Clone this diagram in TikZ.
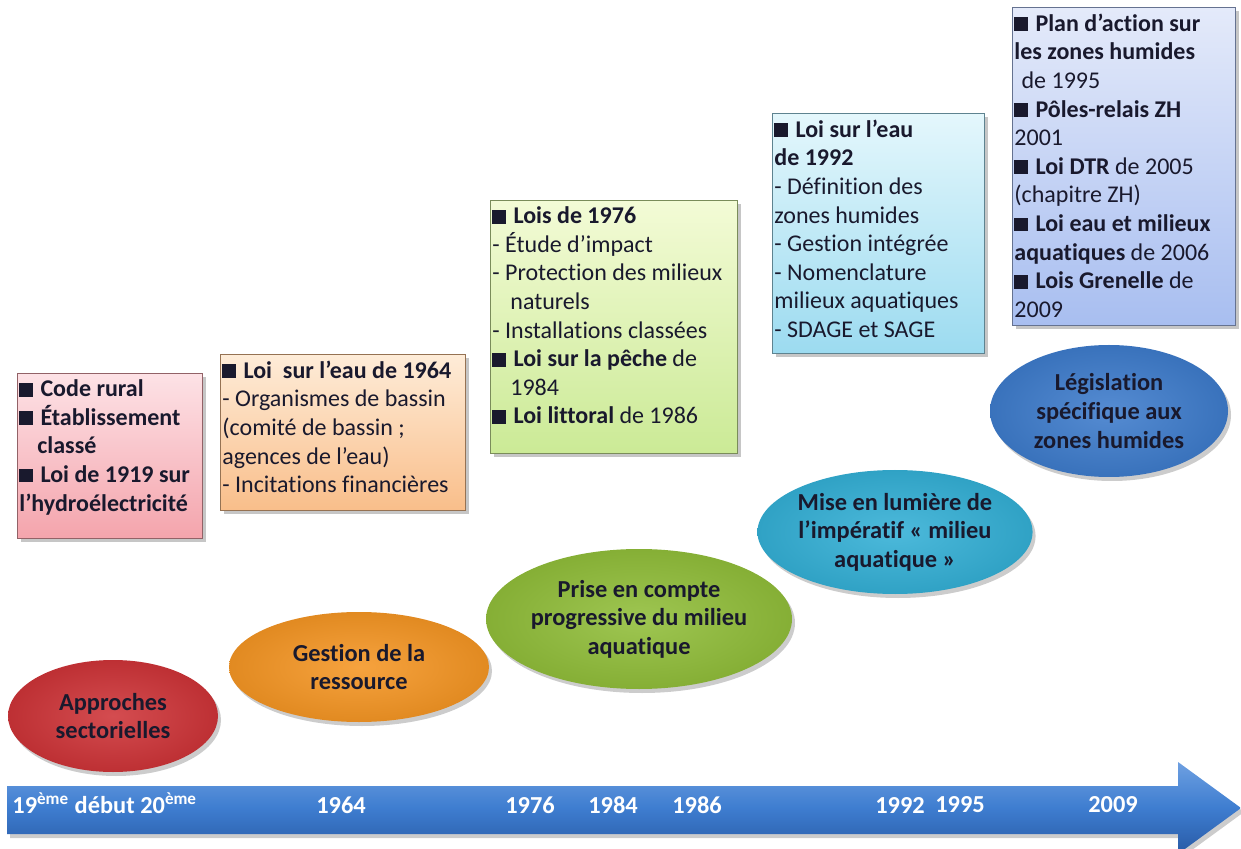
\documentclass[tikz,border=0pt]{standalone}
\usepackage{fontspec}
\setmainfont{Carlito}[Ligatures=NoCommon]
\usepackage{tikz}
\usetikzlibrary{positioning,shapes.geometric,shadows}
\definecolor{txtdark}{RGB}{25,25,45}
\definecolor{rdtop}{RGB}{253,226,230}
\definecolor{rdbot}{RGB}{244,164,172}
\definecolor{ortop}{RGB}{254,236,216}
\definecolor{orbot}{RGB}{249,190,138}
\definecolor{grtop}{RGB}{243,251,214}
\definecolor{grbot}{RGB}{203,234,150}
\definecolor{cytop}{RGB}{228,247,252}
\definecolor{cybot}{RGB}{156,219,240}
\definecolor{bltop}{RGB}{228,234,250}
\definecolor{blbot}{RGB}{168,190,240}
\definecolor{elred}{RGB}{206,52,56}
\definecolor{elorange}{RGB}{245,150,36}
\definecolor{elgreen}{RGB}{145,190,58}
\definecolor{elcyan}{RGB}{52,176,214}
\definecolor{elblue}{RGB}{62,124,204}
\definecolor{bartop}{RGB}{110,160,225}
\definecolor{barmid}{RGB}{62,125,208}
\definecolor{barbot}{RGB}{40,90,165}
\newcommand{\carre}{\rule[0pt]{0.58em}{0.58em}\hspace{0.3em}}
\tikzset{
  lawbox/.style={rectangle, draw=#1bot!60!black, line width=0.5pt,
    top color=#1top, bottom color=#1bot, anchor=north west,
    drop shadow={shadow xshift=1.6pt, shadow yshift=-1.6pt, opacity=0.45}},
  lawtext/.style={font=\fontsize{12}{14.3}\selectfont, text=txtdark, align=left,
    inner xsep=1pt, inner ysep=3.2pt, execute at begin node=\strut},
  phase/.style={ellipse, inner sep=0pt, text=txtdark, align=center,
    font=\fontsize{12.2}{14.3}\selectfont\bfseries,
    inner color=#1!88!white, outer color=#1!92!black,
    drop shadow={shadow xshift=1.5pt, shadow yshift=-2pt, opacity=0.4}},
  yearlbl/.style={text=white, font=\fontsize{12.2}{14}\selectfont\bfseries, inner sep=0pt}
}
\begin{document}
\begin{tikzpicture}[x=0.5pt, y=-0.5pt]
\useasboundingbox (0,0) rectangle (1241,849);

% Timeline arrow
\shade[top color=bartop, bottom color=barbot, middle color=barmid,
       drop shadow={shadow xshift=1.5pt, shadow yshift=-2pt, opacity=0.4}]
  (7,786) -- (1178,786) -- (1178,762) -- (1241,808) -- (1178,854)
  -- (1178,834) -- (7,834) -- cycle;
\node[yearlbl, anchor=west] (y19) at (12,803) {19\textsuperscript{ème} début 20\textsuperscript{ème}};
\node[yearlbl] (y1964) at (341,805) {1964};
\node[yearlbl] (y1976) at (530,805) {1976};
\node[yearlbl] (y1984) at (613,805) {1984};
\node[yearlbl] (y1986) at (697,805) {1986};
\node[yearlbl] (y1992) at (900,805) {1992};
\node[yearlbl] (y1995) at (960,805) {1995};
\node[yearlbl] (y2009) at (1113,805) {2009};

% Phases
\node[phase=elred, minimum width=105pt, minimum height=56pt] (sect) at (113,716)
  {Approches\\sectorielles};
\node[phase=elorange, minimum width=130pt, minimum height=55pt] (ress) at (359,667)
  {Gestion de la\\ressource};
\node[phase=elgreen, minimum width=137pt, minimum height=70pt] (progr) at (639,619)
  {Prise en compte\\progressive du milieu\\aquatique};
\node[phase=elcyan, minimum width=136pt, minimum height=62pt] (imper) at (895,532)
  {Mise en lumière de\\l’impératif « milieu\\aquatique »};
\node[phase=elblue, minimum width=119pt, minimum height=66pt] (legis) at (1109,411)
  {Législation\\spécifique aux\\zones humides};

% Laws boxes
\node[lawbox=rd, minimum width=92.5pt, minimum height=82.5pt] (b19) at (17,373) {};
\node[lawtext, below right=0pt and 0pt of b19.north west] (t19)
  {\textbf{\carre Code rural}\\
   \textbf{\carre Établissement}\\
   \textbf{\hspace*{0.75em}classé}\\
   \textbf{\carre Loi de 1919 sur}\\
   \textbf{l’hydroélectricité}};

\node[lawbox=or, minimum width=122.5pt, minimum height=78pt] (b64) at (220,354) {};
\node[lawtext, below right=0pt and 0pt of b64.north west] (t64)
  {\textbf{\carre Loi\ \ sur l’eau de 1964}\\
   - Organismes de bassin\\
   (comité de bassin ;\\
   agences de l’eau)\\
   - Incitations financières};

\node[lawbox=gr, minimum width=123.5pt, minimum height=126.5pt] (b76) at (490,200) {};
\node[lawtext, below right=0pt and 0pt of b76.north west] (t76)
  {\textbf{\carre Lois de 1976}\\
   - Étude d’impact\\
   - Protection des milieux\\
   \hspace*{0.75em}naturels\\
   - Installations classées\\
   \carre\textbf{Loi sur la pêche} de\\
   \hspace*{0.75em}1984\\
   \carre\textbf{Loi littoral} de 1986};

\node[lawbox=cy, minimum width=106pt, minimum height=120pt] (b92) at (772,113) {};
\node[lawtext, below right=0pt and 0pt of b92.north west] (t92)
  {\textbf{\carre Loi sur l’eau}\\
   \textbf{de 1992}\\
   - Définition des\\
   zones humides\\
   - Gestion intégrée\\
   - Nomenclature\\
   milieux aquatiques\\
   - SDAGE et SAGE};

\node[lawbox=bl, minimum width=111.5pt, minimum height=159pt] (b95) at (1012,7) {};
\node[lawtext, below right=0pt and 0pt of b95.north west] (t95)
  {\textbf{\carre Plan d’action sur}\\
   \textbf{les zones humides}\\
   \hspace*{0.3em}de 1995\\
   \textbf{\carre Pôles-relais ZH}\\
   2001\\
   \carre\textbf{Loi DTR} de 2005\\
   (chapitre ZH)\\
   \carre\textbf{Loi eau et milieux}\\
   \textbf{aquatiques} de 2006\\
   \carre\textbf{Lois Grenelle} de\\
   2009};
\end{tikzpicture}
\end{document}
